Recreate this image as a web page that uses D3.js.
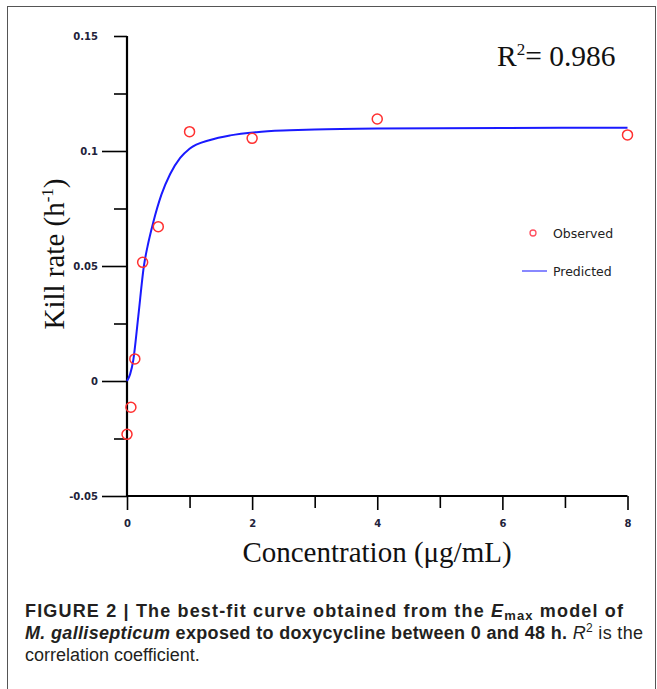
<!DOCTYPE html>
<html>
<head>
<meta charset="utf-8">
<script src="https://cdn.jsdelivr.net/npm/d3@7"></script>
<style>
  body { margin: 0; background: #fff; }
  .tick text { font-family: Tahoma, "DejaVu Sans", sans-serif; font-size: 10px; font-weight: bold; fill: #22223a; }
  .serif { font-family: "Liberation Serif", "Times New Roman", serif; fill: #111; }
  .caption { font-family: "Liberation Sans", Arial, sans-serif; font-size: 18px; fill: #231f20; }
</style>
</head>
<body>
<div class="chart"></div>
<script>
var svgWidth = 657;
var svgHeight = 689;

// observed kill rates
var obsConc = [0, 0.0625, 0.125, 0.25, 0.5, 1, 2, 4, 8];
var obsRate = [-0.0232, -0.0114, 0.0096, 0.0516, 0.0671, 0.1084, 0.1055, 0.1139, 0.107];

// fitted curve
var fitConc = [0, 0.05, 0.1, 0.18, 0.27, 0.34, 0.42, 0.55, 0.69, 0.85, 1.0, 1.33, 1.65, 2.07, 2.6, 3, 4, 6, 8];
var fitRate = [0, 0.003, 0.009, 0.028, 0.050, 0.060, 0.069, 0.081, 0.090, 0.097, 0.101, 0.1048, 0.1068, 0.1082, 0.109, 0.1094, 0.1098, 0.11, 0.1101];

var yTicks = [-0.05, -0.025, 0, 0.025, 0.05, 0.075, 0.1, 0.125, 0.15];
var yLabels = ["-0.05", "", "0", "", "0.05", "", "0.1", "", "0.15"];
var xTicks = [0, 1, 2, 3, 4, 5, 6, 7, 8];
var xLabels = ["0", "", "2", "", "4", "", "6", "", "8"];

var svg = d3.select(".chart")
  .append("svg")
  .attr("width", svgWidth)
  .attr("height", svgHeight);

// frame around the figure
svg.append("rect")
  .attr("x", 7.5).attr("y", 6.5)
  .attr("width", 648).attr("height", 700)
  .attr("fill", "none")
  .attr("stroke", "#555")
  .attr("stroke-width", 1);

var xScale = d3.scaleLinear().domain([0, 8]).range([127, 627.5]);
var yScale = d3.scaleLinear().domain([-0.05, 0.15]).range([496, 36]);

// y axis
var yAxis = svg.append("g")
  .attr("transform", "translate(127,0)")
  .call(d3.axisLeft(yScale).tickValues(yTicks).tickSize(25).tickPadding(4)
    .tickFormat((d, i) => yLabels[i]));
yAxis.select(".domain").attr("stroke-width", 2.2).attr("d", "M0," + yScale(0.15) + "V" + yScale(-0.05));
yAxis.selectAll(".tick line")
  .attr("stroke-width", 1.6)
  .attr("x2", (d, i) => (yLabels[i] === "" || d === 0.15) ? -13 : -25);

// x axis
var xAxis = svg.append("g")
  .attr("transform", "translate(0,496)")
  .call(d3.axisBottom(xScale).tickValues(xTicks).tickSize(14).tickPadding(10)
    .tickFormat((d, i) => xLabels[i]));
xAxis.select(".domain").attr("stroke-width", 2.2).attr("d", "M" + xScale(0) + ",0H" + xScale(8));
xAxis.selectAll(".tick line")
  .attr("stroke-width", 1.6)
  .attr("y2", (d, i) => xLabels[i] === "" ? 12 : 14);

// predicted curve
var line = d3.line()
  .x((d, i) => xScale(fitConc[i]))
  .y((d, i) => yScale(fitRate[i]))
  .curve(d3.curveMonotoneX);

svg.append("path")
  .datum(fitConc)
  .attr("d", line)
  .attr("fill", "none")
  .attr("stroke", "#1a1aff")
  .attr("stroke-width", 2);

// observed points
svg.selectAll(".obs")
  .data(obsConc)
  .enter()
  .append("circle")
  .attr("class", "obs")
  .attr("cx", (d, i) => xScale(d))
  .attr("cy", (d, i) => yScale(obsRate[i]))
  .attr("r", 5)
  .attr("fill", "none")
  .attr("stroke", "#ff3030")
  .attr("stroke-width", 1.5);

// legend
var legend = svg.append("g").attr("font-family", "Tahoma, 'DejaVu Sans', sans-serif").attr("font-size", 12.5).attr("fill", "#222");
legend.append("circle").attr("cx", 533).attr("cy", 233).attr("r", 3)
  .attr("fill", "none").attr("stroke", "#ff5060").attr("stroke-width", 1.3);
legend.append("text").attr("x", 553).attr("y", 237.5).text("Observed");
legend.append("line").attr("x1", 522).attr("x2", 547).attr("y1", 271).attr("y2", 271)
  .attr("stroke", "#6060ff").attr("stroke-width", 1.5);
legend.append("text").attr("x", 553).attr("y", 275.5).text("Predicted");

// R squared
var r2 = svg.append("text").attr("class", "serif").attr("x", 497).attr("y", 66).attr("font-size", 29.5);
r2.append("tspan").text("R");
r2.append("tspan").attr("font-size", 17).attr("dy", -11).text("2");
r2.append("tspan").attr("dy", 11).text("= 0.986");

// axis titles
svg.append("text")
  .attr("class", "serif")
  .attr("x", 377).attr("y", 562)
  .attr("text-anchor", "middle")
  .attr("font-size", 29)
  .text("Concentration (\u03bcg/mL)");

var yTitle = svg.append("text")
  .attr("class", "serif")
  .attr("transform", "translate(64,254) rotate(-90)")
  .attr("text-anchor", "middle")
  .attr("font-size", 29);
yTitle.append("tspan").text("Kill rate (h");
yTitle.append("tspan").attr("font-size", 17).attr("dy", -11).text("-1");
yTitle.append("tspan").attr("dy", 11).text(")");

// caption
var cap1 = svg.append("text").attr("class", "caption").attr("x", 25).attr("y", 617).attr("font-weight", "bold")
  .attr("textLength", 598).attr("lengthAdjust", "spacing");
cap1.append("tspan").text("FIGURE 2 | The best-fit curve obtained from the ");
cap1.append("tspan").attr("font-style", "italic").text("E");
cap1.append("tspan").attr("font-size", 13).attr("dy", 3).text("max");
cap1.append("tspan").attr("dy", -3).text(" model of");

var cap2 = svg.append("text").attr("class", "caption").attr("x", 25).attr("y", 639)
  .attr("textLength", 618).attr("lengthAdjust", "spacing");
cap2.append("tspan").attr("font-weight", "bold").attr("font-style", "italic").text("M. gallisepticum");
cap2.append("tspan").attr("font-weight", "bold").text(" exposed to doxycycline between 0 and 48 h.");
cap2.append("tspan").attr("font-style", "italic").text(" R");
cap2.append("tspan").attr("font-size", 12).attr("dy", -7).text("2");
cap2.append("tspan").attr("dy", 7).text(" is the");

svg.append("text").attr("class", "caption").attr("x", 25).attr("y", 661).text("correlation coefficient.");
</script>
</body>
</html>
